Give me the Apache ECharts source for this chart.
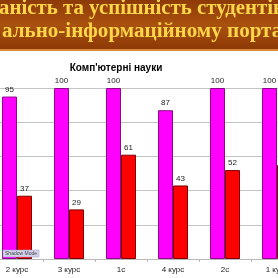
<!DOCTYPE html>
<html>
<head>
<meta charset="utf-8">
<script src="https://cdn.jsdelivr.net/npm/echarts@6/dist/echarts.min.js"></script>
<style>
  html, body { margin: 0; padding: 0; background: #fff; }
  #chart { width: 278px; height: 278px; }
</style>
</head>
<body>
<div id="chart"></div>
<script>
const categories = ["2 курс", "3 курс", "1с", "4 курс", "2с", "1 курс"];
const attendance = [95, 100, 100, 87, 100, 100];
const performance = [37, 29, 61, 43, 52, 55];
// visible part of the slide heading, clipped at both sides of the picture
const headerLines = ["ваність та успішність студентів", "ально-інформаційному порталі"];
const chartTitle = "Комп'ютерні науки";

const chart = echarts.init(document.getElementById("chart"), null, { renderer: "canvas" });

const labelStyle = { show: true, position: "top", distance: 3, color: "#222", fontSize: 8, fontFamily: "Arial" };

// fit each heading line between two word positions
const headerFontSize = 20;
const measure = document.createElement("canvas").getContext("2d");
measure.font = `bold ${headerFontSize}px "Liberation Serif"`;
const prefixWidth = (line, word) => measure.measureText(line.slice(0, line.indexOf(word))).width;

function headerText(line, wordA, atA, wordB, atB, y) {
  const a = prefixWidth(line, wordA);
  const b = prefixWidth(line, wordB);
  const scale = (atB - atA) / (b - a);
  return {
    type: "text", x: atA - a * scale, y: y, z: 11, scaleX: scale,
    style: {
      text: line, fill: "#ffd54a",
      fontSize: headerFontSize, fontWeight: "bold", fontFamily: "Liberation Serif",
      textVerticalAlign: "middle",
      textShadowColor: "rgba(40,10,0,0.8)", textShadowOffsetX: 1, textShadowOffsetY: 1
    }
  };
}

chart.setOption({
  animation: false,
  backgroundColor: "#fff",
  title: {
    text: chartTitle,
    left: 111, top: 58, textAlign: "center",
    textStyle: { fontSize: 10, fontWeight: "bold", color: "#000", fontFamily: "Arial" }
  },
  grid: { left: -9, right: -25, top: 88, bottom: 19, containLabel: false, outerBoundsMode: "none" },
  xAxis: {
    type: "category",
    data: categories,
    axisLine: { lineStyle: { color: "#b8b8b8" } },
    axisTick: { show: true, length: 3, lineStyle: { color: "#b8b8b8" } },
    axisLabel: { color: "#222", fontSize: 8, fontFamily: "Arial", margin: 7 }
  },
  yAxis: {
    type: "value", min: 0, max: 100, interval: 20,
    axisLabel: { show: false }, axisLine: { show: false }, axisTick: { show: false },
    splitLine: { lineStyle: { color: "#c4c4c4", width: 1 } }
  },
  series: [
    {
      type: "bar", data: attendance, barWidth: 15, barGap: "0%",
      itemStyle: { color: "#ff00ff", borderColor: "#8a0a8a", borderWidth: 1 },
      label: labelStyle
    },
    {
      type: "bar", data: performance, barWidth: 15,
      itemStyle: { color: "#ff0000", borderColor: "#7a0000", borderWidth: 1 },
      label: labelStyle
    }
  ],
  graphic: [
    {
      type: "rect", left: 0, top: 0, z: 10,
      shape: { width: 278, height: 50 },
      style: {
        fill: new echarts.graphic.LinearGradient(0, 0, 0, 1, [
          { offset: 0, color: "#8e3a08" },
          { offset: 0.5, color: "#a9510e" },
          { offset: 1, color: "#8c3806" }
        ])
      }
    },
    {
      type: "rect", left: 0, top: 49, z: 10,
      shape: { width: 278, height: 2 },
      style: { fill: "#d9893a" }
    },
    headerText(headerLines[0], "та ", 63, "студент", 197, 9),
    headerText(headerLines[1], "ально", 2, "порта", 227, 32),
    {
      type: "group", x: 3, y: 250, z: 12,
      children: [
        { type: "rect", z: 12, shape: { width: 36, height: 7 }, style: { fill: "#d4d4ee", stroke: "#9a9ac0", lineWidth: 0.5 } },
        { type: "text", z: 13, x: 18, y: 3.5, style: { text: "Shadow Mode", fill: "#444", fontSize: 5, fontFamily: "Arial", textAlign: "center", textVerticalAlign: "middle" } }
      ]
    }
  ]
});
</script>
</body>
</html>
